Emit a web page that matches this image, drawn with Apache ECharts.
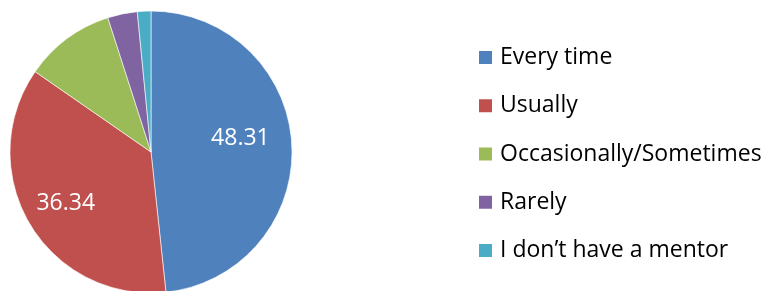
<!DOCTYPE html>
<html>
<head>
<meta charset="utf-8">
<script src="https://cdn.jsdelivr.net/npm/echarts@6/dist/echarts.min.js"></script>
<style>
  html, body { margin: 0; padding: 0; background: #fff; }
  #chart { width: 766px; height: 291px; }
</style>
</head>
<body>
<div id="chart"></div>
<script>
// answers
const categories = ['Every time', 'Usually', 'Occasionally/Sometimes', 'Rarely', 'I don\u2019t have a mentor'];
const values = [48.31, 36.34, 10.4, 3.4, 1.55];
const colors = ['#4F81BD', '#C0504D', '#9BBB59', '#8064A2', '#4BACC6'];
// only the two big slices carry a label
const labelOffsets = [[16, -10], [-22, 14], null, null, null];

const myChart = echarts.init(document.getElementById('chart'));

const data = categories.map((name, i) => {
  const item = { value: values[i], name: name, itemStyle: { color: colors[i] } };
  if (labelOffsets[i]) {
    item.label = { show: true, offset: labelOffsets[i] };
  } else {
    item.label = { show: false };
  }
  return item;
});

const option = {
  animation: false,
  legend: {
    orient: 'vertical',
    left: 472,
    top: 41,
    itemWidth: 15,
    itemHeight: 15,
    itemGap: 25.25,
    icon: 'rect',
    selectedMode: false,
    data: categories,
    textStyle: {
      fontFamily: 'Open Sans',
      fontSize: 23,
      color: '#000',
      lineHeight: 23,
      padding: [0, 0, 0, 2],
    },
  },
  series: [
    {
      type: 'pie',
      radius: 141,
      center: [151, 152],
      startAngle: 90,
      clockwise: true,
      silent: true,
      itemStyle: { borderColor: '#fff', borderWidth: 0.6 },
      label: {
        position: 'inside',
        formatter: '{c}',
        color: '#fff',
        fontFamily: 'Open Sans',
        fontSize: 23,
      },
      labelLine: { show: false },
      data: data,
    },
  ],
};
myChart.setOption(option);
</script>
</body>
</html>
